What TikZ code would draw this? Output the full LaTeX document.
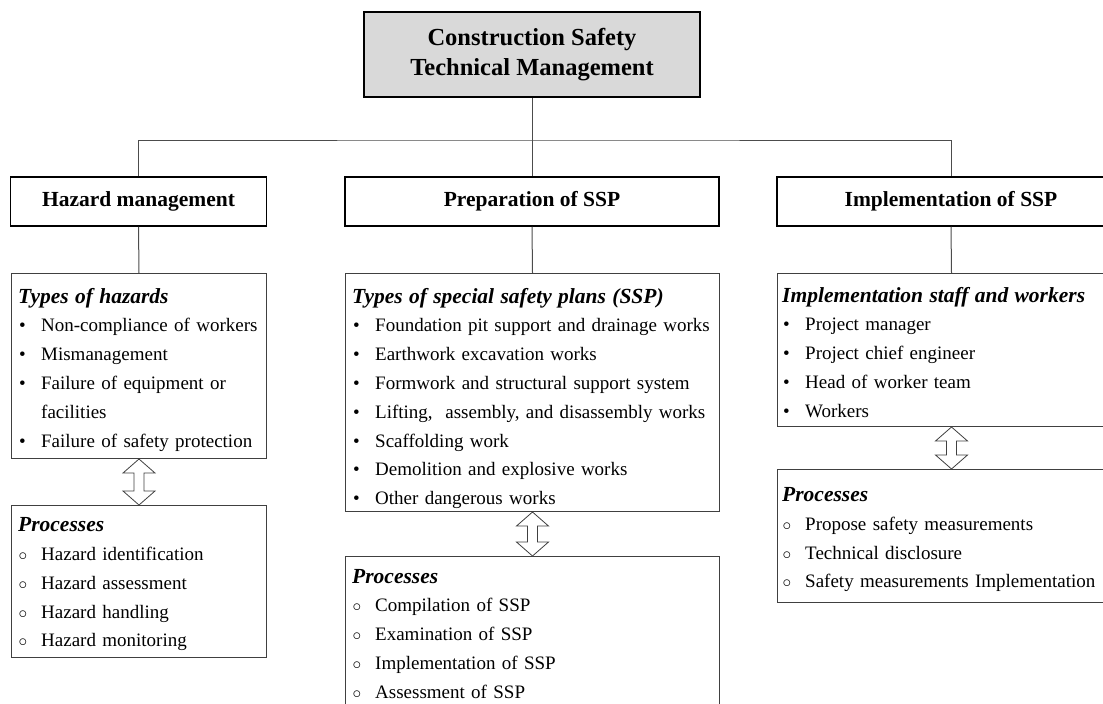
\documentclass[tikz,border=0pt]{standalone}
\usepackage{fontspec}
\setmainfont{Liberation Serif}
\usetikzlibrary{positioning, calc}
\tikzset{>=stealth}

\tikzset{
  topbox/.style={draw, line width=2pt, fill=gray!30, align=center,
    font=\fontsize{24.5}{30}\selectfont\bfseries},
  groupbox/.style={draw, line width=1.5pt, minimum height=49, inner sep=0,
    font=\fontsize{21.5}{26}\selectfont\bfseries},
  listbox/.style={draw=black!75, line width=1pt, anchor=north west, inner sep=0},
  listtext/.style={anchor=base west, inner sep=0, align=left, text width=420,
    font=\fontsize{19}{28.8}\selectfont},
  link/.style={draw=black!70, line width=1pt},
  dblarr/.style={draw=black!75, line width=0.8pt, fill=white, line join=miter}
}

\newcommand{\subhd}[1]{{\fontsize{21.5}{28.8}\selectfont\bfseries\itshape #1}}
\newcommand{\bul}{\makebox[23pt][l]{\hspace{1pt}\textbullet}}
\newcommand{\cir}{\makebox[23pt][l]{\hspace{0.5pt}$\circ$}}
% hollow double arrow from node anchor #1 down to node anchor #2
\newcommand{\updown}[2]{%
  \draw[dblarr] (#1) -- ($(#1)+(16,14)$) -- ($(#1)+(5,14)$) -- ($(#2)+(5,-14)$)
    -- ($(#2)+(16,-14)$) -- (#2) -- ($(#2)+(-16,-14)$) -- ($(#2)+(-5,-14)$)
    -- ($(#1)+(-5,14)$) -- ($(#1)+(-16,14)$) -- cycle;}

\begin{document}
\begin{tikzpicture}[x=1pt, y=-1pt]
\useasboundingbox (0,0) rectangle (1103,704);
\clip (0,0) rectangle (1103,704);

\node[topbox, minimum width=336, minimum height=85] (top) at (532,54.5) {Construction Safety\\Technical Management};

\node[groupbox, minimum width=256] (haz) at (138.5,201.5) {Hazard management};
\node[groupbox, minimum width=374] (prep) at (532,201.5) {Preparation of SSP};
\node[groupbox, minimum width=348] (impl) at (951,201.5) {Implementation of SSP};

\coordinate (bar) at (532,140);
\draw[link] (top.south) -- (prep.north);
\draw[link] (haz.north) |- (bar) -| (impl.north);

\node[listbox, minimum width=255, minimum height=185] (hzt) at (11,273) {};
\node[listbox, minimum width=255, minimum height=152] (hzp) at (11,505) {};
\node[listbox, minimum width=374, minimum height=238] (sst) at (345,273) {};
\node[listbox, minimum width=374, minimum height=180] (ssp) at (345,556) {};
\node[listbox, minimum width=348, minimum height=153] (imt) at (777,273) {};
\node[listbox, minimum width=348, minimum height=133] (imp) at (777,469) {};

\draw[link] (haz.south) -- (hzt.north);
\draw[link] (prep.south) -- (sst.north);
\draw[link] (impl.south) -- (imt.north);

\updown{hzt.south}{hzp.north}
\updown{sst.south}{ssp.north}
\updown{imt.south}{imp.north}

\node[listtext] (hzt-txt) at ($(hzt.north west)+(7,30)$) {\subhd{Types of hazards}\\
\bul Non-compliance of workers\\
\bul Mismanagement\\
\bul Failure of equipment or\\
\hspace*{23pt}facilities\\
\bul Failure of safety protection};

\node[listtext] (hzp-txt) at ($(hzp.north west)+(7,26.7)$) {\subhd{Processes}\\
\cir Hazard identification\\
\cir Hazard assessment\\
\cir Hazard handling\\
\cir Hazard monitoring};

\node[listtext] (sst-txt) at ($(sst.north west)+(7,30)$) {\subhd{Types of special safety plans (SSP)}\\
\bul Foundation pit support and drainage works\\
\bul Earthwork excavation works\\
\bul Formwork and structural support system\\
\bul Lifting, \ assembly, and disassembly works\\
\bul Scaffolding work\\
\bul Demolition and explosive works\\
\bul Other dangerous works};

\node[listtext] (ssp-txt) at ($(ssp.north west)+(7,27)$) {\subhd{Processes}\\
\cir Compilation of SSP\\
\cir Examination of SSP\\
\cir Implementation of SSP\\
\cir Assessment of SSP};

\node[listtext] (imt-txt) at ($(imt.north west)+(5,29)$) {\subhd{Implementation staff and workers}\\
\bul Project manager\\
\bul Project chief engineer\\
\bul Head of worker team\\
\bul Workers};

\node[listtext] (imp-txt) at ($(imp.north west)+(5,32.5)$) {\subhd{Processes}\\
\cir Propose safety measurements\\
\cir Technical disclosure\\
\cir Safety measurements Implementation};

\end{tikzpicture}
\end{document}
